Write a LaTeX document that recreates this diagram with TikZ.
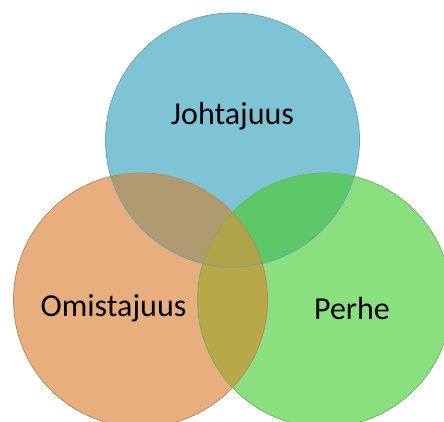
\documentclass[tikz,border=0pt]{standalone}
\usepackage{fontspec}
\setmainfont{Carlito}
\definecolor{cA}{HTML}{7EC4D6}
\definecolor{cB}{HTML}{E9AE7E}
\definecolor{cC}{HTML}{8ADF7E}
\definecolor{cAB}{HTML}{B09A70}
\definecolor{cAC}{HTML}{5CC868}
\definecolor{cBC}{HTML}{B8A848}
\definecolor{cABC}{HTML}{B0A448}
\definecolor{lA}{HTML}{6AA6B6}
\definecolor{lB}{HTML}{B88A60}
\definecolor{lC}{HTML}{6CB862}
\begin{document}
\begin{tikzpicture}[x=1pt,y=-1pt,
  lbl/.style={font=\fontsize{32}{38}\selectfont, text=black, inner sep=0pt},
  rim/.style={line width=0.8pt}]
\useasboundingbox (0,0) rectangle (444,421);
\def\cirA{(232.5,140) circle[radius=127pt]}
\def\cirB{(140.5,300) circle[radius=127pt]}
\def\cirC{(324.5,300) circle[radius=127pt]}
\begin{scope}
\clip (0,0) rectangle (444,421);
\fill[cA] \cirA;
\fill[cB] \cirB;
\fill[cC] \cirC;
\begin{scope}\clip \cirA; \fill[cAB] \cirB; \end{scope}
\begin{scope}\clip \cirA; \fill[cAC] \cirC; \end{scope}
\begin{scope}\clip \cirB; \fill[cBC] \cirC; \end{scope}
\begin{scope}\clip \cirA; \clip \cirB; \fill[cABC] \cirC; \end{scope}
\draw[rim, lA] \cirA;
\draw[rim, lB] \cirB;
\draw[rim, lC] \cirC;
\end{scope}
\node[lbl] (johto) at (232.5,116) {Johtajuus};
\node[lbl] (omist) at (113.5,308) {Omistajuus};
\node[lbl] (perhe) at (352,308) {Perhe};
\end{tikzpicture}
\end{document}
